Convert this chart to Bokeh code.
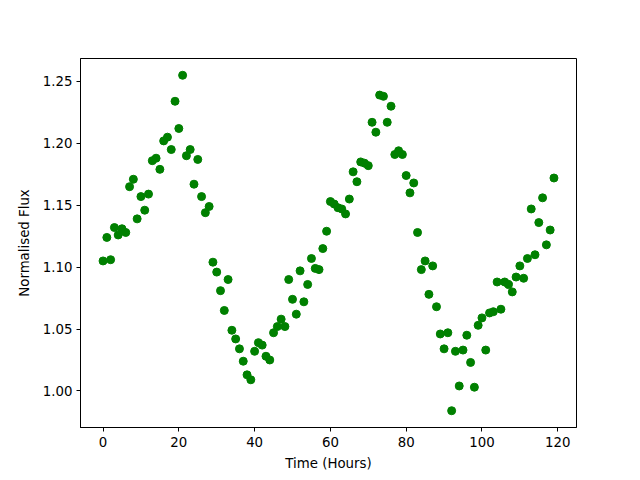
from bokeh.plotting import figure
from bokeh.models import FixedTicker, Range1d, PrintfTickFormatter
from bokeh.embed import file_html
from bokeh.resources import INLINE

hours = list(range(120))
flux = [
    1.105, 1.124, 1.106, 1.132, 1.126, 1.131, 1.128, 1.165, 1.171, 1.139,
    1.157, 1.146, 1.159, 1.186, 1.188, 1.179, 1.202, 1.205, 1.195, 1.234,
    1.212, 1.255, 1.190, 1.195, 1.167, 1.187, 1.157, 1.144, 1.149, 1.104,
    1.096, 1.081, 1.065, 1.090, 1.049, 1.042, 1.034, 1.024, 1.013, 1.009,
    1.032, 1.039, 1.037, 1.028, 1.025, 1.047, 1.052, 1.058, 1.052, 1.090,
    1.074, 1.062, 1.097, 1.072, 1.086, 1.107, 1.099, 1.098, 1.115, 1.129,
    1.153, 1.151, 1.148, 1.147, 1.143, 1.155, 1.177, 1.169, 1.185, 1.184,
    1.182, 1.217, 1.209, 1.239, 1.238, 1.217, 1.230, 1.191, 1.194, 1.191,
    1.174, 1.160, 1.168, 1.128, 1.098, 1.105, 1.078, 1.101, 1.068, 1.046,
    1.034, 1.047, 0.984, 1.032, 1.004, 1.033, 1.045, 1.023, 1.003, 1.053,
    1.059, 1.033, 1.063, 1.064, 1.088, 1.066, 1.088, 1.086, 1.080, 1.092,
    1.101, 1.091, 1.107, 1.147, 1.110, 1.136, 1.156, 1.118, 1.130, 1.172,
]
x_ticks = [0, 20, 40, 60, 80, 100, 120]
y_ticks = [1.00, 1.05, 1.10, 1.15, 1.20, 1.25]

xmin, xmax = min(hours), max(hours)
ymin, ymax = min(flux), max(flux)
xm = 0.05 * (xmax - xmin)
ym = 0.05 * (ymax - ymin)

p = figure(width=640, height=480, output_backend="svg", toolbar_location=None,
           x_range=Range1d(xmin - xm, xmax + xm), y_range=Range1d(ymin - ym, ymax + ym),
           min_border_left=80, min_border_right=64, min_border_top=58, min_border_bottom=53)
p.scatter(hours, flux, size=8, fill_color="#008000", line_color="#008000")

p.xgrid.visible = False
p.ygrid.visible = False
p.outline_line_color = "black"
p.outline_line_width = 1
p.background_fill_color = "white"
p.border_fill_color = "white"

p.xaxis.ticker = FixedTicker(ticks=x_ticks)
p.yaxis.ticker = FixedTicker(ticks=y_ticks)
p.yaxis.formatter = PrintfTickFormatter(format="%.2f")
p.xaxis.axis_label = "Time (Hours)"
p.yaxis.axis_label = "Normalised Flux"
for ax in (p.xaxis, p.yaxis):
    ax.minor_tick_line_color = None
    ax.major_tick_in = 0
    ax.major_tick_out = 4
    ax.major_label_text_font = "DejaVu Sans"
    ax.major_label_text_font_size = "10pt"
    ax.major_label_text_color = "black"
    ax.axis_label_text_font = "DejaVu Sans"
    ax.axis_label_text_font_size = "10pt"
    ax.axis_label_text_font_style = "normal"
    ax.axis_label_text_color = "black"
    ax.axis_line_color = "black"
    ax.major_tick_line_color = "black"
p.xaxis.axis_label_standoff = 6
p.yaxis.axis_label_standoff = 8
p.xaxis.major_label_standoff = 5
p.yaxis.major_label_standoff = 4

open("out.html", "w").write(file_html(p, INLINE))
